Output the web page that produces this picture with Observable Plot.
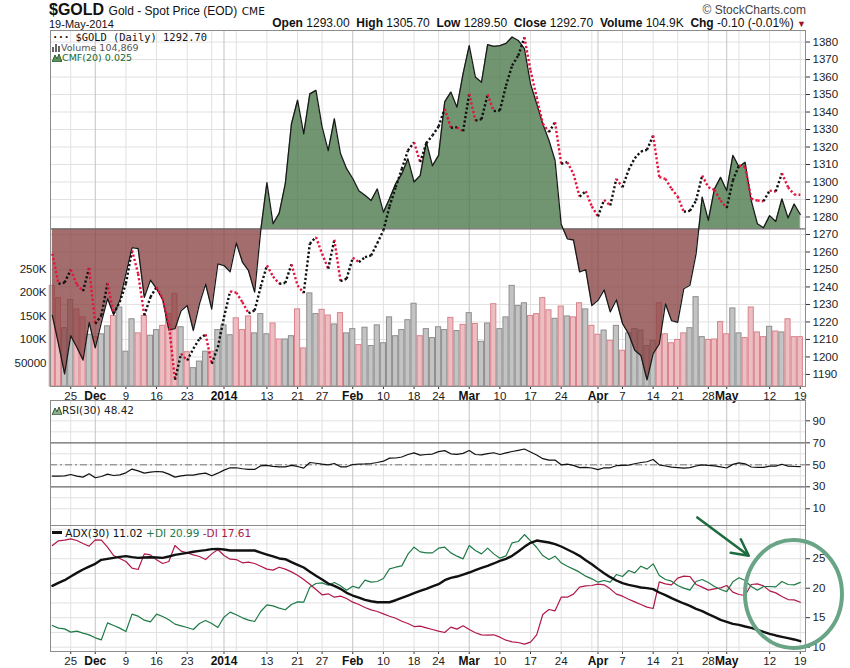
<!DOCTYPE html>
<html><head><meta charset="utf-8">
<script src="https://cdn.jsdelivr.net/npm/d3@7"></script>
<script src="https://cdn.jsdelivr.net/npm/@observablehq/plot@0.6"></script>
<style>
body{margin:0;background:#fff;font-family:"Liberation Sans",Arial,sans-serif;}
#chart{position:relative;width:850px;height:668px;overflow:hidden;background:#fff;}
.t{position:absolute;white-space:nowrap;line-height:1;}
</style></head><body><div id="chart"></div>
<script>
// ---------- DATA (trading-day index 0 = 20-Nov-2013 ... 122 = 19-May-2014) ----------
const prevClose = 1262;
const price = [1259.0,1241.8,1242.5,1249.8,1241.4,1237.6,1250.8,1219.0,1223.7,1242.2,
 1224.7,1231.3,1242.0,1260.9,1247.5,1223.7,1234.2,1239.9,1233.3,1219.0,
 1187.0,1201.8,1198.0,1204.7,1210.4,1212.9,1196.1,1205.6,1222.7,1237.5,
 1236.8,1231.3,1225.0,1226.6,1240.3,1252.3,1246.0,1241.8,1242.3,1252.9,
 1240.9,1236.5,1264.7,1268.5,1259.0,1250.4,1267.0,1243.3,1244.7,1256.7,
 1254.2,1257.0,1258.0,1265.0,1272.3,1286.0,1297.0,1307.5,1318.0,1322.7,
 1311.3,1322.2,1326.6,1331.7,1341.8,1331.0,1331.3,1329.0,1350.4,1335.1,
 1335.9,1350.0,1340.5,1340.9,1355.1,1366.6,1372.3,1382.7,1363.7,1348.5,
 1333.3,1328.5,1334.2,1310.4,1311.3,1304.7,1291.7,1294.7,1286.0,1280.3,
 1289.8,1286.6,1301.8,1297.0,1306.9,1313.6,1317.4,1318.4,1326.6,1302.8,
 1301.8,1296.1,1291.7,1283.0,1283.5,1289.4,1303.7,1297.0,1295.5,1289.4,
 1285.2,1300.9,1309.4,1308.6,1290.4,1289.4,1289.0,1295.1,1294.6,1305.0,
 1297.0,1292.8,1292.7];
const volumeK = [214,188,124,184,164,147,110,105,111,128,
 150,168,74,143,113,150,108,120,129,154,
 197,126,73,39,53,74,74,120,130,109,
 145,120,149,113,154,111,134,100,100,107,
 164,81,198,154,163,151,132,156,113,122,
 88,125,86,130,92,147,107,120,141,176,
 107,122,103,126,120,146,118,131,156,133,
 95,134,175,122,147,214,171,177,150,154,
 188,162,144,170,149,147,177,164,129,110,
 119,97,129,76,113,122,119,86,97,177,
 111,92,99,113,124,190,105,99,100,137,
 111,166,113,103,168,115,105,127,117,115,
 143,105,105];
const cmf = [-0.149,-0.198,-0.250,-0.184,-0.204,-0.226,-0.161,-0.205,-0.161,-0.120,
 -0.148,-0.123,-0.077,-0.032,-0.034,-0.118,-0.088,-0.103,-0.122,-0.174,
 -0.172,-0.141,-0.132,-0.175,-0.129,-0.095,-0.138,-0.060,-0.063,-0.074,
 -0.024,-0.057,-0.072,-0.109,-0.002,0.080,0.009,0.027,0.078,0.181,
 0.222,0.164,0.233,0.239,0.176,0.135,0.190,0.130,0.104,0.087,
 0.066,0.058,0.049,0.069,0.029,0.052,0.078,0.095,0.121,0.081,
 0.092,0.150,0.109,0.127,0.219,0.236,0.210,0.268,0.316,0.262,
 0.253,0.318,0.315,0.316,0.320,0.331,0.325,0.311,0.250,0.216,
 0.181,0.153,0.118,0.008,-0.017,-0.019,-0.074,-0.070,-0.132,-0.123,
 -0.105,-0.143,-0.122,-0.163,-0.181,-0.209,-0.218,-0.260,-0.215,-0.198,
 -0.129,-0.158,-0.161,-0.103,-0.097,-0.043,0.055,0.015,0.069,0.089,
 0.066,0.127,0.107,0.115,0.049,0.009,0.002,0.023,0.013,0.052,
 0.019,0.043,0.025];
const rsi = [39.7,39.7,40.0,41.2,39.7,38.8,41.8,38.2,39.4,41.5,
 40.3,40.9,42.7,46.1,44.5,42.4,43.3,43.9,43.6,41.5,
 38.8,40.0,40.6,40.6,41.8,42.4,40.0,42.4,45.2,47.3,
 47.3,46.4,45.8,45.8,49.1,49.5,48.5,48.2,48.2,49.5,
 48.5,47.0,52.1,51.4,50.6,50.0,51.2,48.2,48.2,50.3,
 50.6,50.8,51.2,52.1,53.3,56.1,56.2,57.1,59.4,60.9,
 58.8,59.4,59.8,62.0,62.9,60.0,59.5,60.4,63.0,59.4,
 59.1,60.2,61.0,59.4,60.8,62.1,63.2,64.4,61.7,58.9,
 55.6,54.2,54.4,50.0,50.6,49.5,47.5,47.6,47.1,45.6,
 47.3,47.3,49.2,49.4,49.7,51.0,52.1,52.8,54.8,49.9,
 48.9,47.9,47.5,47.0,47.5,48.9,49.9,49.5,49.0,48.2,
 47.1,50.4,51.8,50.9,48.0,47.6,47.6,48.8,48.8,50.5,
 48.8,48.5,48.42];
const adx = [20.40,20.91,21.36,21.98,22.60,23.17,23.67,24.13,24.81,24.98,
 25.15,25.32,25.43,25.26,25.15,25.20,25.26,25.20,25.15,25.38,
 25.66,25.83,26.00,26.17,26.33,26.45,26.62,26.67,26.56,26.39,
 26.39,26.39,26.39,26.39,26.05,25.71,25.38,25.04,24.92,24.41,
 23.96,23.51,22.78,22.10,21.47,20.79,20.40,19.89,19.21,18.76,
 18.42,18.02,17.79,17.62,17.62,17.62,17.96,18.36,18.75,19.15,
 19.55,19.89,20.29,20.68,21.36,21.76,21.98,22.32,22.66,23.06,
 23.45,23.79,24.19,24.64,24.98,25.49,26.22,27.01,27.69,28.08,
 27.92,27.75,27.46,27.07,26.56,26.05,25.49,24.75,24.07,23.28,
 22.55,21.87,21.31,20.85,20.57,20.34,20.12,20.01,19.84,19.27,
 18.82,18.31,17.86,17.41,17.01,16.50,16.11,15.60,15.15,14.64,
 14.30,13.96,13.79,13.51,13.28,12.95,12.60,12.27,11.99,11.76,
 11.53,11.31,11.02];
const plusDI = [13.68,13.23,13.11,12.55,12.72,12.38,12.09,11.59,11.25,14.13,
 13.68,13.23,12.66,15.60,15.26,14.58,14.30,15.60,15.20,14.64,
 13.91,13.62,13.34,13.00,14.02,14.53,14.02,13.34,15.09,15.94,
 15.49,14.98,14.58,14.36,16.05,17.18,17.01,16.62,16.34,17.24,
 17.69,17.63,20.18,20.80,20.91,20.51,20.97,20.40,19.67,20.34,
 20.01,21.36,21.02,21.14,21.64,23.28,23.56,23.79,25.77,26.95,
 26.16,25.99,25.99,26.79,26.95,25.99,25.43,24.98,27.24,26.39,
 25.82,26.79,25.82,25.09,25.49,27.69,27.92,29.10,28.03,26.90,
 25.54,24.86,25.43,24.30,23.73,23.23,22.72,22.04,21.59,21.02,
 21.31,21.02,22.32,21.98,23.00,22.60,23.73,23.23,24.13,22.15,
 21.47,21.19,20.46,20.01,19.67,21.14,21.47,20.97,20.29,19.78,
 19.43,21.08,21.76,21.31,20.29,19.67,20.29,20.29,20.23,21.14,
 20.63,20.57,20.99];
const minusDI = [27.24,28.03,28.14,28.37,28.08,27.58,27.12,28.20,28.14,26.95,
 25.54,25.03,24.53,23.40,23.17,25.82,25.65,24.81,24.19,24.53,
 27.24,26.28,25.99,25.65,25.37,24.86,25.82,26.56,25.54,24.92,
 24.86,24.30,24.41,24.19,23.73,23.23,23.06,23.56,23.23,22.77,
 22.21,21.47,20.68,19.78,18.88,19.05,18.48,18.65,18.25,17.63,
 17.24,16.72,16.33,16.05,15.65,15.25,14.91,14.40,14.01,13.50,
 13.56,13.28,13.00,12.72,12.49,13.40,13.06,13.62,13.00,12.44,
 12.10,12.04,12.10,11.70,11.19,10.91,10.80,10.52,10.86,12.10,
 15.54,16.39,16.16,18.48,18.48,18.99,20.18,20.40,20.46,20.68,
 20.57,19.89,18.99,18.65,18.14,17.68,17.24,16.79,16.56,21.08,
 20.74,20.57,21.70,22.04,21.98,20.63,20.18,19.67,19.89,20.06,
 20.46,19.33,18.93,18.76,20.63,20.74,20.40,19.55,19.21,18.59,
 18.08,18.03,17.61];

// ticks & labels
const tickIdx = [3,7,12,17,22,28,35,40,44,49,54,59,63,68,73,78,83,89,93,98,102,107,110,117,122];
const tickLabels = ["25","Dec","9","16","23","2014","13","21","27","Feb","10","18","24","Mar","10","17","24","Apr","7","14","21","28","May","12","19"];
const monthLabels = ["Dec","2014","Feb","Mar","Apr","May"];
const weekGrid = [3,12,17,22,26,30,35,40,44,54,59,63,73,78,83,88,93,98,102,107,112,117,122];
const monthGrid = [7,28,49,68,89,110];
const priceTicks = [1190,1200,1210,1220,1230,1240,1250,1260,1270,1280,1290,1300,1310,1320,1330,1340,1350,1360,1370,1380];
const volTicks = [50,100,150,200,250];
const volTickLabels = ["50000","100K","150K","200K","250K"];
const rsiGrid = [10,20,30,40,50,60,70,80,90];
const rsiTicks = [10,30,50,70,90];
const adxGrid = [10,12.5,15,17.5,20,22.5,25,27.5,30];
const adxTicks = [10,15,20,25];
// annotation (index, ADX value)
const arrowFrom = [105.2, 32.0], arrowTo = [113.6, 25.5];
const ellipseCenter = [120.97, 18.93], ellipseRadii = [7.91, 9.15];

// ---------- LAYOUT ----------
const chart = document.getElementById("chart");
const W = 850, ML = 50, MR = 45;
const FONT = "Liberation Sans, Arial, sans-serif";
const xDomain = [-0.3, 122.85];
const priceDomain = [1183.1, 1386.6];
const volDomain = [0, 757];
const cmfDomain = [-0.2716, 0.3422];
const rsiDomain = [-5.2, 108.5];
const adxDomain = [9.27, 30.63];
const PTOP = 30, PH = 370, PMB = 14;

const up = i => (i === 0 ? price[0] >= prevClose : price[i] >= price[i - 1]);
const rows = price.map((p, i) => ({i, p, v: volumeK[i], c: cmf[i], r: rsi[i], a: adx[i], pd: plusDI[i], md: minusDI[i], up: up(i)}));
const segs = d3.pairs(rows).map(([a, b]) => ({x1: a.i, y1: a.p, x2: b.i, y2: b.p, col: b.p >= a.p ? "#111111" : "#e3143f"}));

function layer(top, opts) {
  const o = Object.assign({
    width: W, marginLeft: ML, marginRight: MR, marginTop: 0, marginBottom: 0,
    style: {background: "transparent", overflow: "visible", fontFamily: FONT, fontSize: "11px", color: "#333"}
  }, opts);
  o.x = Object.assign({type: "linear", domain: xDomain}, opts.x || {});
  const svg = Plot.plot(o);
  svg.style.position = "absolute"; svg.style.left = "0px"; svg.style.top = top + "px";
  chart.appendChild(svg);
  return svg;
}
const plain = d => String(d);
const fmtTick = d => tickLabels[tickIdx.indexOf(d)];
const normalTicks = tickIdx.filter(d => !monthLabels.includes(fmtTick(d)));
const boldTicks = tickIdx.filter(d => monthLabels.includes(fmtTick(d)));
const xAxes = [
  Plot.axisX({ticks: normalTicks, tickFormat: fmtTick, tickSize: 3, tickPadding: 2, label: null, fontSize: 11.5, fill: "#222"}),
  Plot.axisX({ticks: boldTicks, tickFormat: fmtTick, tickSize: 3, tickPadding: 2, label: null, fontSize: 12, fontWeight: "bold", fill: "#111"})
];
const vGrid = [Plot.ruleX(weekGrid, {stroke: "#e1e1e1"}), Plot.ruleX(monthGrid, {stroke: "#c4c4c4"})];

// 1. price panel base: grid + axes
layer(PTOP, {height: PH, marginBottom: PMB, y: {domain: priceDomain},
  marks: [Plot.ruleY(priceTicks, {stroke: "#e1e1e1"}), ...vGrid,
    Plot.axisY({anchor: "right", ticks: priceTicks, tickFormat: plain, tickSize: 4, tickPadding: 3, label: null, fontSize: 11.5, fill: "#222"}),
    ...xAxes]});
// 2. volume bars
layer(PTOP, {height: PH, marginBottom: PMB, x: {axis: null}, y: {domain: volDomain}, color: {type: "identity"},
  marks: [
    Plot.rectY(rows, {x1: d => d.i - 0.42, x2: d => d.i + 0.42, y1: 0, y2: "v",
      fill: d => d.up ? "#c3c3c3" : "#ecbec2", stroke: d => d.up ? "#8e8e8e" : "#d9838b", strokeWidth: 1}),
    Plot.axisY({anchor: "left", ticks: volTicks, tickFormat: d => volTickLabels[volTicks.indexOf(d)], tickSize: 0, tickPadding: 4, label: null, fontSize: 11.5, fill: "#222"})
  ]});
// 3/4. CMF areas (green above zero, red below zero)
const cmfOpts = fill => ({height: PH, marginBottom: PMB, x: {axis: null}, y: {domain: cmfDomain, axis: null},
  marks: [Plot.areaY(rows, {x: "i", y1: 0, y2: "c", fill, fillOpacity: 0.76})]});
const gSvg = layer(PTOP, cmfOpts("#437443"));
const rSvg = layer(PTOP, cmfOpts("#873f3f"));
const zeroY = gSvg.scale("y").apply(0);
gSvg.style.clipPath = `inset(0px 0px ${PH - zeroY}px 0px)`;
rSvg.style.clipPath = `inset(${zeroY}px 0px 0px 0px)`;
// 5. CMF outline, zero line, frame
layer(PTOP, {height: PH, marginBottom: PMB, x: {axis: null}, y: {domain: cmfDomain, axis: null},
  marks: [Plot.ruleY([0], {stroke: "#6b6b6b", strokeWidth: 1.2}),
    Plot.line(rows, {x: "i", y: "c", stroke: "#1a1a1a", strokeWidth: 1.3}),
    Plot.frame({stroke: "#8c8c8c"})]});
// 6. price dotted line
layer(PTOP, {height: PH, marginBottom: PMB, x: {axis: null}, y: {domain: priceDomain, axis: null}, color: {type: "identity"},
  marks: [Plot.link(segs, {x1: "x1", y1: "y1", x2: "x2", y2: "y2", stroke: "col", strokeWidth: 2.4, strokeDasharray: "2.2,2.2"})]});

// RSI panel
layer(400, {height: 125, x: {axis: null}, y: {domain: rsiDomain},
  marks: [Plot.ruleY(rsiGrid, {stroke: "#e1e1e1"}), ...vGrid,
    Plot.ruleY([30, 70], {stroke: "#6e6e6e", strokeWidth: 1.2}),
    Plot.ruleY([50], {stroke: "#777", strokeWidth: 1, strokeDasharray: "7,3,2,3"}),
    Plot.line(rows, {x: "i", y: "r", stroke: "#111", strokeWidth: 1.2}),
    Plot.axisY({anchor: "right", ticks: rsiTicks, tickFormat: plain, tickSize: 4, tickPadding: 3, label: null, fontSize: 11.5, fill: "#222"}),
    Plot.frame({stroke: "#8c8c8c"})]});

// ADX panel
const adxSvg = layer(525, {height: 143, marginBottom: 17, y: {domain: adxDomain},
  marks: [Plot.ruleY(adxGrid, {stroke: "#e1e1e1"}), ...vGrid,
    Plot.line(rows, {x: "i", y: "md", stroke: "#b01848", strokeWidth: 1.2}),
    Plot.line(rows, {x: "i", y: "pd", stroke: "#1f7a47", strokeWidth: 1.2}),
    Plot.line(rows, {x: "i", y: "a", stroke: "#111", strokeWidth: 2.4}),
    Plot.axisY({anchor: "right", ticks: adxTicks, tickFormat: plain, tickSize: 4, tickPadding: 3, label: null, fontSize: 11.5, fill: "#222"}),
    ...xAxes,
    Plot.frame({stroke: "#8c8c8c"}),
    Plot.arrow([{x1: arrowFrom[0], y1: arrowFrom[1], x2: arrowTo[0], y2: arrowTo[1]}],
      {x1: "x1", y1: "y1", x2: "x2", y2: "y2", stroke: "#1d6b3f", strokeWidth: 2.5, headLength: 11, headAngle: 55})]});
{
  const sx = adxSvg.scale("x"), sy = adxSvg.scale("y");
  const cx = sx.apply(ellipseCenter[0]), cy = sy.apply(ellipseCenter[1]);
  const rx = sx.apply(ellipseCenter[0] + ellipseRadii[0]) - cx;
  const ry = cy - sy.apply(ellipseCenter[1] + ellipseRadii[1]);
  d3.select(adxSvg).append("ellipse").attr("cx", cx).attr("cy", cy).attr("rx", rx).attr("ry", ry)
    .attr("fill", "none").attr("stroke", "#6aa486").attr("stroke-width", 4);
}

// ---------- TEXT ----------
function txt(html, style) {
  const d = document.createElement("div"); d.className = "t"; d.innerHTML = html;
  Object.assign(d.style, style); chart.appendChild(d); return d;
}
txt('<span style="font-weight:bold;font-size:16px">$GOLD</span> <span style="font-size:12px">Gold - Spot Price (EOD)</span> <span style="font-size:10.5px;font-family:DejaVu Sans">CME</span>', {left: "49px", top: "2px", color: "#111"});
txt('19-May-2014', {left: "49px", top: "19px", fontSize: "11px", color: "#111"});
txt('&copy; StockCharts.com', {right: "44px", top: "4px", fontSize: "12px", color: "#444"});
txt('<b>Open</b> 1293.00&nbsp; <b>High</b> 1305.70&nbsp; <b>Low</b> 1289.50&nbsp; <b>Close</b> 1292.70&nbsp; <b>Volume</b> 104.9K&nbsp; <b>Chg</b> -0.10 (-0.01%) <span style="color:#a0102a;font-size:9px">&#9660;</span>', {right: "44px", top: "17px", fontSize: "12px", color: "#111"});

const barIcon = '<svg width="9" height="9" style="vertical-align:-1px"><rect x="0" y="4" width="2" height="5" fill="#666"/><rect x="3" y="1" width="2" height="8" fill="#666"/><rect x="6" y="3" width="2" height="6" fill="#666"/></svg>';
const areaIcon = (f, s) => `<svg width="10" height="9" style="vertical-align:-1px"><path d="M0,9 L3,2 L5,6 L7,1 L10,9 Z" fill="${f}" stroke="${s}" stroke-width="1"/></svg>`;
txt('<span style="letter-spacing:-0.5px;font-weight:bold">&middot;&middot;&middot;</span> $GOLD (Daily) 1292.70', {left: "52px", top: "32px", fontSize: "10.4px", fontFamily: "DejaVu Sans Mono", color: "#111"});
txt(barIcon + 'Volume 104,869', {left: "52px", top: "43px", fontSize: "9.5px", fontFamily: "DejaVu Sans", color: "#555"});
txt(areaIcon("#5e8e5e", "#2d5e2d") + 'CMF(20) 0.025', {left: "52px", top: "53px", fontSize: "9.5px", fontFamily: "DejaVu Sans", color: "#236a2c"});
txt(areaIcon("#8fb08f", "#335533") + 'RSI(30) 48.42', {left: "52px", top: "405px", fontSize: "10.5px", fontFamily: "DejaVu Sans", color: "#222"});
txt('<span style="display:inline-block;width:10px;height:3px;background:#111;vertical-align:3px"></span> ADX(30) 11.02 <span style="color:#1f7a47">+DI 20.99</span> <span style="color:#a8174a">-DI 17.61</span>', {left: "52px", top: "528px", fontSize: "10.5px", fontFamily: "DejaVu Sans", color: "#111"});
</script></body></html>
